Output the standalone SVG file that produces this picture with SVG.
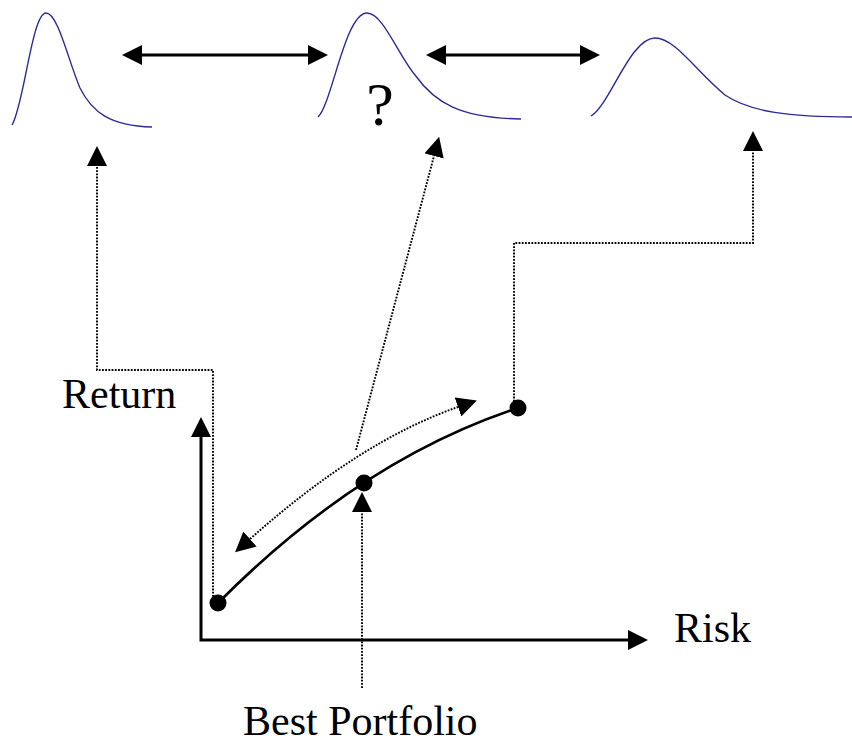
<svg xmlns="http://www.w3.org/2000/svg" width="852" height="744" viewBox="0 0 852 744">
<style>
.dist{fill:none;stroke:#2b2b96;stroke-width:1.4}
.solid{fill:none;stroke:#000;stroke-width:3}
.dot{fill:none;stroke:#000;stroke-width:1.9;stroke-dasharray:1.8 1.4}
.lbl{font-family:"Liberation Serif","Times New Roman",serif;font-size:42px;fill:#000}
.pt{fill:#000}
</style>
<defs>
<marker id="ah" viewBox="0 0 20 20" markerWidth="20" markerHeight="20" refX="0" refY="10" orient="auto-start-reverse" markerUnits="userSpaceOnUse">
<path d="M0,0 L20,10 L0,20 z" fill="#000"/>
</marker>
</defs>
<rect width="852" height="744" fill="#fff"/>
<g id="dist-left"><path class="dist" d="M12,125 C24,105 32,13 46,13 C58,13 68,60 80,88 C92,112 110,126 152,127"/></g>
<g id="dist-mid"><path class="dist" d="M318,117 C332,104 345,13 367,13 C383,13 398,55 415,75 C435,103 460,118 521,119"/>
<text class="lbl" x="380" y="125" text-anchor="middle" style="font-size:62px">?</text></g>
<g id="dist-right"><path class="dist" d="M591,116 C610,105 630,38 655,38 C675,38 695,70 725,95 C750,112 790,117 852,117"/></g>
<g id="axes">
<path class="solid" d="M201,437 V640 H628" marker-start="url(#ah)" marker-end="url(#ah)"/>
<text class="lbl" x="62" y="408">Return</text>
<text class="lbl" x="674" y="642">Risk</text>
</g>
<g id="frontier">
<path class="solid" d="M218,603 Q360,460 518,408" style="stroke-width:2.6"/>
<circle class="pt" cx="218" cy="603" r="8.5"/>
<circle class="pt" cx="364" cy="483" r="8.5"/>
<circle class="pt" cx="518" cy="408" r="8.5"/>
</g>
<g id="best-label"><text class="lbl" x="243" y="735">Best Portfolio</text></g>
<g id="connectors">
<path class="solid" d="M142,55 H308" marker-start="url(#ah)" marker-end="url(#ah)"/>
<path class="solid" d="M446,55 H580" marker-start="url(#ah)" marker-end="url(#ah)"/>
<path class="dot" d="M213,600 V370 H97 V166" marker-end="url(#ah)"/>
<path class="dot" d="M356,450 L434,156" marker-end="url(#ah)"/>
<path class="dot" d="M514,408 V243 H753 V151" marker-end="url(#ah)"/>
<path class="dot" d="M362,688 V512" marker-end="url(#ah)"/>
<path class="dot" d="M250,539 Q360,441 458,407" marker-start="url(#ah)" marker-end="url(#ah)"/>
</g>
</svg>
